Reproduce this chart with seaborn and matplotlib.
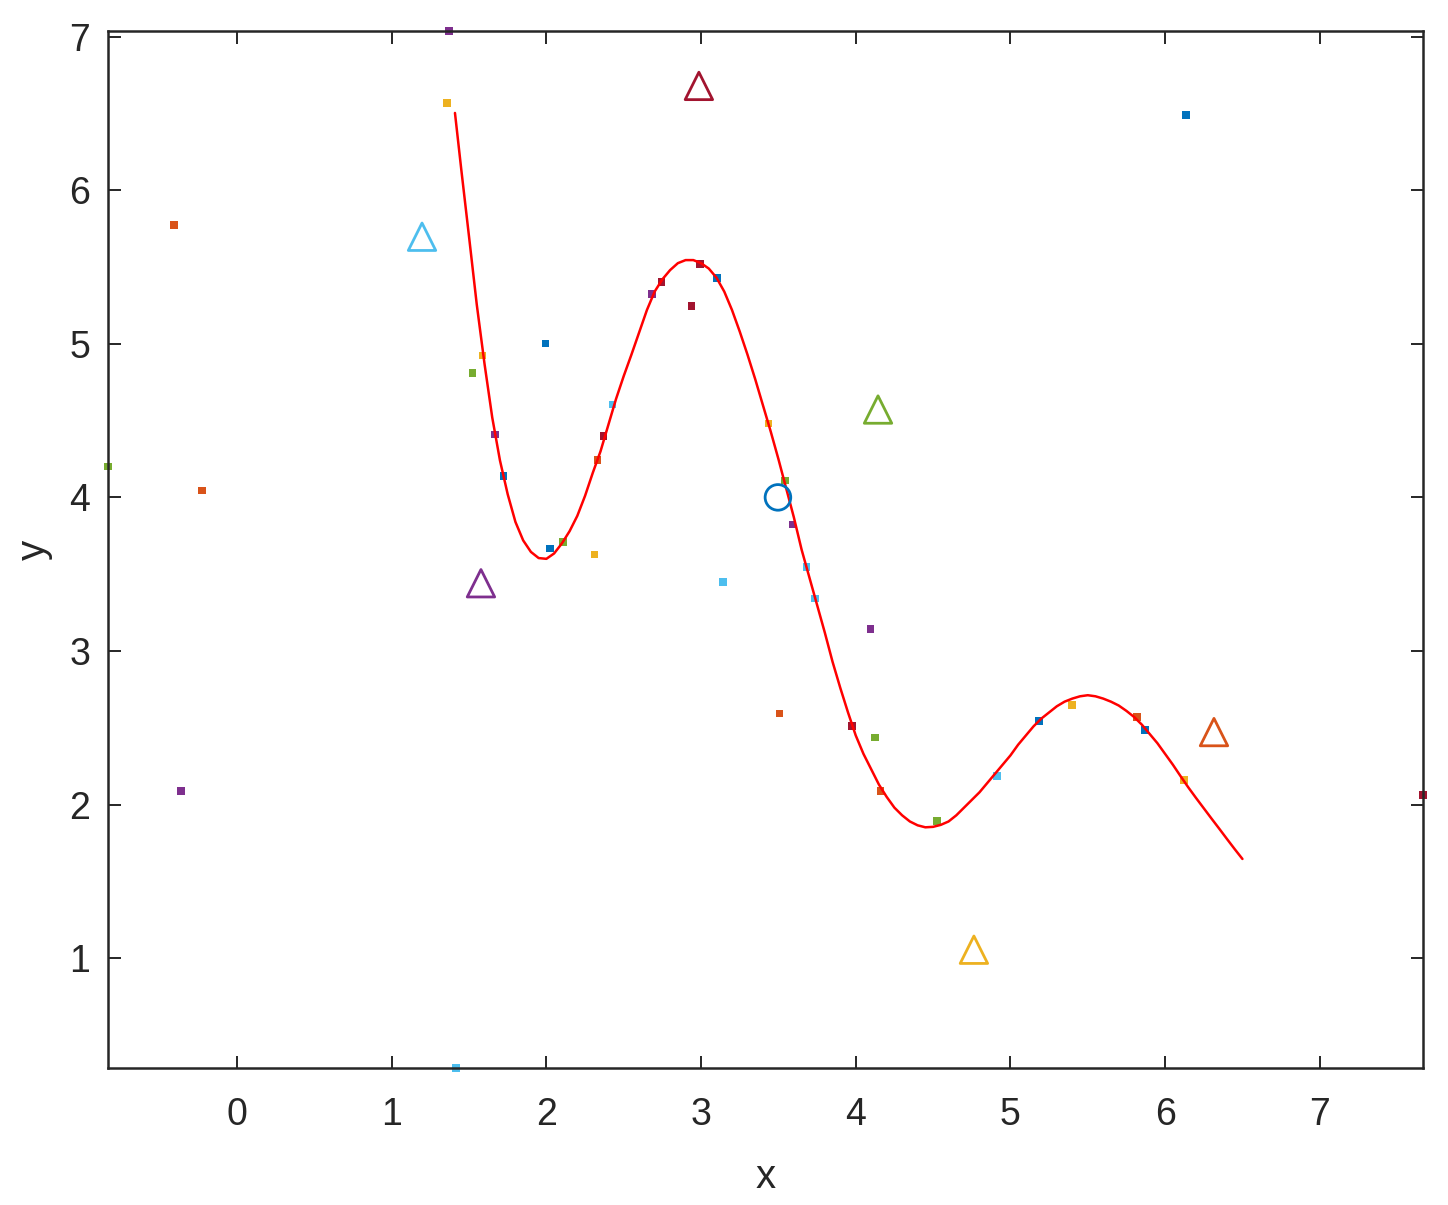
import numpy as np
import pandas as pd
import matplotlib
matplotlib.use("Agg")
import matplotlib.pyplot as plt
import seaborn as sns

# ---------------- data ----------------
pt_x = [-0.407, -0.226, -0.362, -0.834, 1.370, 1.357, 1.416, 1.588, 1.523, 1.995,
        1.668, 1.722, 2.023, 2.109, 2.310, 2.331, 2.368, 2.428, 2.681, 2.745,
        2.993, 2.939, 3.105, 3.140, 3.435, 3.542, 3.590, 3.682, 3.736, 3.506,
        4.096, 3.977, 4.124, 4.161, 4.527, 4.915, 5.186, 5.398, 5.818, 5.869,
        6.122, 7.667, 6.134]
pt_y = [5.775, 4.045, 2.088, 4.200, 7.036, 6.568, 0.285, 4.923, 4.808, 5.003,
        4.410, 4.139, 3.666, 3.709, 3.627, 4.243, 4.399, 4.605, 5.324, 5.402,
        5.521, 5.248, 5.428, 3.449, 4.481, 4.110, 3.824, 3.547, 3.341, 2.594,
        3.142, 2.513, 2.438, 2.090, 1.895, 2.188, 2.544, 2.648, 2.570, 2.485,
        2.160, 2.063, 6.490]
pt_group = ["orange", "orange", "purple", "green", "purple", "yellow", "lightblue", "yellow", "green", "blue",
            "purple", "blue", "blue", "green", "yellow", "orange", "darkred", "lightblue", "purple", "darkred",
            "darkred", "darkred", "blue", "lightblue", "yellow", "green", "purple", "lightblue", "lightblue", "orange",
            "purple", "darkred", "green", "orange", "green", "lightblue", "blue", "yellow", "orange", "blue",
            "yellow", "darkred", "blue"]

tri_x = [2.986, 1.196, 4.144, 1.577, 6.316, 4.764]
tri_y = [6.679, 5.697, 4.572, 3.441, 2.472, 1.055]
tri_group = ["darkred", "lightblue", "green", "purple", "orange", "yellow"]

circ_x = [3.497]
circ_y = [4.000]
circ_group = ["blue"]

curve_x = [1.409, 1.45, 1.50, 1.55, 1.60, 1.65, 1.70, 1.75, 1.80, 1.85,
           1.90, 1.95, 2.00, 2.05, 2.10, 2.15, 2.20, 2.25, 2.30, 2.35,
           2.40, 2.45, 2.50, 2.55, 2.60, 2.65, 2.70, 2.75, 2.80, 2.85,
           2.90, 2.95, 3.00, 3.05, 3.10, 3.15, 3.20, 3.25, 3.30, 3.35,
           3.40, 3.45, 3.50, 3.55, 3.60, 3.65, 3.70, 3.75, 3.80, 3.85,
           3.90, 3.95, 4.00, 4.05, 4.10, 4.15, 4.20, 4.25, 4.30, 4.35,
           4.40, 4.45, 4.50, 4.55, 4.60, 4.65, 4.70, 4.75, 4.80, 4.85,
           4.90, 4.95, 5.00, 5.05, 5.10, 5.15, 5.20, 5.25, 5.30, 5.35,
           5.40, 5.45, 5.50, 5.55, 5.60, 5.65, 5.70, 5.75, 5.80, 5.85,
           5.90, 5.95, 6.00, 6.05, 6.10, 6.15, 6.20, 6.25, 6.30, 6.35,
           6.40, 6.45, 6.50]
curve_y = [6.503, 6.133, 5.697, 5.255, 4.870, 4.520, 4.240, 4.020, 3.840, 3.720,
           3.645, 3.605, 3.600, 3.635, 3.700, 3.780, 3.880, 4.010, 4.160, 4.300,
           4.470, 4.640, 4.790, 4.930, 5.075, 5.220, 5.340, 5.420, 5.480, 5.525,
           5.545, 5.545, 5.525, 5.490, 5.430, 5.340, 5.220, 5.080, 4.930, 4.770,
           4.600, 4.430, 4.250, 4.060, 3.870, 3.660, 3.480, 3.300, 3.120, 2.930,
           2.760, 2.600, 2.450, 2.330, 2.230, 2.130, 2.050, 1.980, 1.930, 1.890,
           1.865, 1.852, 1.855, 1.868, 1.890, 1.930, 1.980, 2.030, 2.080, 2.140,
           2.200, 2.260, 2.320, 2.390, 2.450, 2.510, 2.560, 2.600, 2.640, 2.670,
           2.690, 2.705, 2.712, 2.705, 2.690, 2.670, 2.645, 2.610, 2.570, 2.520,
           2.460, 2.400, 2.330, 2.260, 2.185, 2.112, 2.043, 1.976, 1.909, 1.843,
           1.776, 1.710, 1.646]

x_ticks = [0, 1, 2, 3, 4, 5, 6, 7]
y_ticks = [1, 2, 3, 4, 5, 6, 7]

palette = {
    "blue": "#0072BD", "orange": "#D95319", "yellow": "#EDB120", "purple": "#7E2F8E",
    "green": "#77AC30", "lightblue": "#4DBEEE", "darkred": "#A2142F",
}

# ---------------- style ----------------
sns.set_style("white")
plt.rcParams["font.family"] = ["Liberation Sans", "DejaVu Sans"]
ink = "#262626"

fig = plt.figure(figsize=(14.48, 12.05), dpi=100)
ax = fig.add_axes([0.0746, 0.1137, 0.9827 - 0.0746, 0.9742 - 0.1137])

pts = pd.DataFrame({"x": pt_x, "y": pt_y, "g": pt_group})
tris = pd.DataFrame({"x": tri_x, "y": tri_y, "g": tri_group})
circ = pd.DataFrame({"x": circ_x, "y": circ_y, "g": circ_group})
curve = pd.DataFrame({"x": curve_x, "y": curve_y})

sns.scatterplot(data=pts, x="x", y="y", hue="g", palette=palette, marker="s",
                s=30, linewidth=0, legend=False, ax=ax, zorder=2, clip_on=False)
sns.lineplot(data=curve, x="x", y="y", sort=False, estimator=None, color="red",
             linewidth=1.8, ax=ax, zorder=3)

n_before = len(ax.collections)
sns.scatterplot(data=tris, x="x", y="y", hue="g", palette=palette, marker="^",
                s=390, linewidth=2.0, legend=False, ax=ax, zorder=4, clip_on=False)
sns.scatterplot(data=circ, x="x", y="y", hue="g", palette=palette, marker="o",
                s=340, linewidth=2.0, legend=False, ax=ax, zorder=4, clip_on=False)
for coll in ax.collections[n_before:]:
    fc = coll.get_facecolors()
    coll.set_edgecolors(fc)
    coll.set_facecolors("none")

# tight limits like the original
ax.set_xlim(min(pt_x), max(pt_x))
ax.set_ylim(min(pt_y), max(pt_y))
ax.set_xticks(x_ticks)
ax.set_yticks(y_ticks)

for sp in ax.spines.values():
    sp.set_visible(True)
    sp.set_color(ink)
    sp.set_linewidth(1.8)

ax.tick_params(axis="both", which="both", direction="in", length=9, width=1.4,
               color=ink, labelcolor=ink, labelsize=27,
               top=True, right=True, bottom=True, left=True)
ax.tick_params(axis="x", pad=21)
ax.tick_params(axis="y", pad=13)

ax.set_xlabel("x", fontsize=29, color=ink, labelpad=18)
ax.set_ylabel("y", fontsize=29, color=ink, labelpad=12)

fig.savefig("out.png", dpi=100)
